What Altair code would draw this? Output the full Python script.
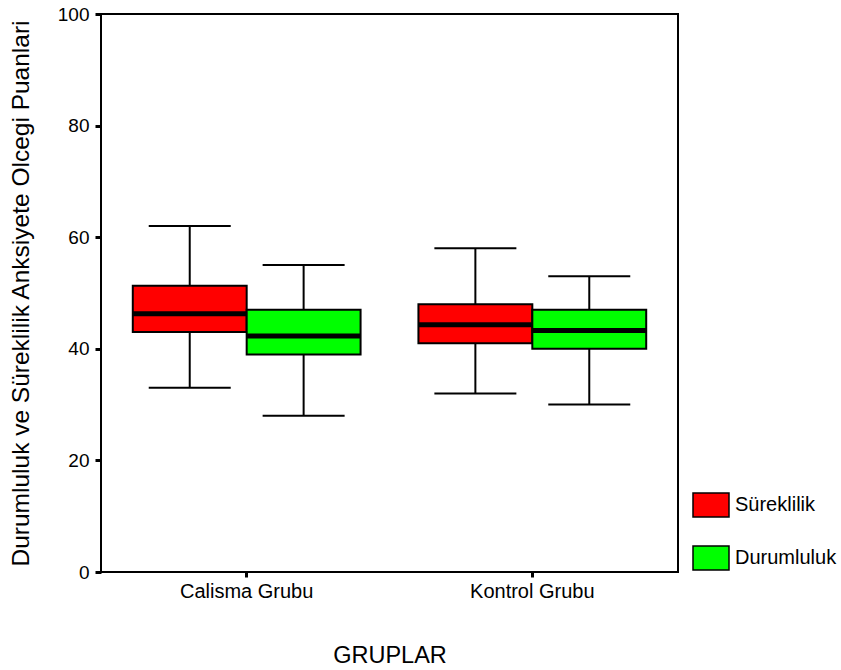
import altair as alt
import pandas as pd

groups = ["Calisma Grubu", "Kontrol Grubu"]
series = ["Süreklilik", "Durumluluk"]
colors = ["#ff0000", "#00ff00"]

# per group, per series: [low whisker, Q1, median, Q3, high whisker]
calisma_surek = [33, 43, 46.3, 51.3, 62]
calisma_durum = [28, 39, 42.3, 47, 55]
kontrol_surek = [32, 41, 44.3, 48, 58]
kontrol_durum = [30, 40, 43.3, 47, 53]

stats = {
    ("Calisma Grubu", "Süreklilik"): calisma_surek,
    ("Calisma Grubu", "Durumluluk"): calisma_durum,
    ("Kontrol Grubu", "Süreklilik"): kontrol_surek,
    ("Kontrol Grubu", "Durumluluk"): kontrol_durum,
}
rows = []
for (g, s), v in stats.items():
    rows.append({"grup": g, "seri": s, "low": v[0], "q1": v[1], "med": v[2], "q3": v[3], "high": v[4]})
df = pd.DataFrame(rows)

FONT = "Liberation Sans"

x = alt.X("grup:N", sort=groups, scale=alt.Scale(paddingInner=0, paddingOuter=0.01),
          axis=alt.Axis(title="GRUPLAR", labelAngle=0, labelFontSize=20, labelFont=FONT,
                        labelColor="black", tickSize=5, tickWidth=3, tickColor="black",
                        labelPadding=4, domain=False, titleFontSize=23.5, titleFont=FONT,
                        titleFontWeight="normal", titleColor="black", titlePadding=42))
xo = alt.XOffset("seri:N", sort=series, scale=alt.Scale(paddingInner=0, paddingOuter=0.254))
yscale = alt.Scale(domain=[0, 100], nice=False)
yaxis = alt.Axis(title="Durumluluk ve Süreklilik Anksiyete Olcegi Puanlari", values=[0, 20, 40, 60, 80, 100],
                 labelFontSize=19, labelFont=FONT, labelColor="black", tickSize=6, tickWidth=3,
                 tickColor="black", labelPadding=6, domain=False, grid=False,
                 titleFontSize=24.5, titleFont=FONT, titleFontWeight="normal", titleColor="black",
                 titlePadding=24)

base = alt.Chart(df)

whisk = base.mark_rule(color="black", strokeWidth=2).encode(
    x=x, xOffset=xo, y=alt.Y("low:Q", scale=yscale, axis=yaxis), y2="high:Q")
cap_lo = base.mark_tick(color="black", size=82, thickness=2, opacity=1).encode(
    x=x, xOffset=xo, y=alt.Y("low:Q", scale=yscale))
cap_hi = base.mark_tick(color="black", size=82, thickness=2, opacity=1).encode(
    x=x, xOffset=xo, y=alt.Y("high:Q", scale=yscale))
box = base.mark_bar(stroke="black", strokeWidth=2, opacity=1).encode(
    x=x, xOffset=xo, y=alt.Y("q1:Q", scale=yscale), y2="q3:Q",
    color=alt.Color("seri:N", sort=series, scale=alt.Scale(domain=series, range=colors),
                    legend=alt.Legend(title=None, orient="none", legendX=597, legendY=478,
                                      symbolType="M-1.5,-1H1.5V1H-1.5Z", symbolSize=576,
                                      symbolStrokeColor="black", symbolStrokeWidth=1.5,
                                      symbolOpacity=1, labelFontSize=20, labelFont=FONT,
                                      labelColor="black", labelOffset=11, rowPadding=23)))
med = base.mark_tick(color="black", size=114, thickness=5, opacity=1).encode(
    x=x, xOffset=xo, y=alt.Y("med:Q", scale=yscale))

chart = alt.layer(whisk, cap_lo, cap_hi, box, med).properties(
    width=577, height=558,
    autosize=alt.AutoSizeParams(type="none"),
    padding={"left": 101, "top": 14, "right": 163, "bottom": 98},
    background="white",
).configure_view(stroke="black", strokeWidth=2)

chart.save("out.html", embed_options={"renderer": "svg", "actions": False})
